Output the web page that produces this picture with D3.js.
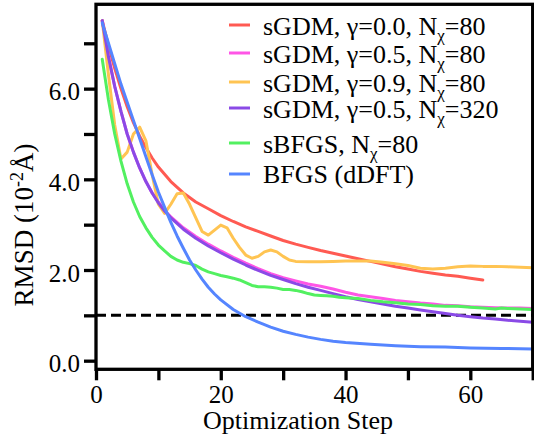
<!DOCTYPE html>
<html>
<head>
<meta charset="utf-8">
<script src="https://cdn.jsdelivr.net/npm/d3@7"></script>
<style>
    body { margin: 0; background: #fff; }
    svg text { font-family: "Liberation Serif", "Times New Roman", "DejaVu Serif", serif; }
</style>
</head>
<body>
<div id="chart"></div>
<script>
// Values
const stepsRed = [1, 2, 3, 4, 5, 6, 7, 8, 9, 10, 12, 14, 16, 18, 20, 22, 24, 26, 28, 30, 32, 34, 36, 38, 40, 42, 44, 46, 48, 50, 52, 54, 56, 58, 60, 62];
const rmsdRed = [7.5, 6.95, 6.45, 6.0, 5.6, 5.25, 4.95, 4.7, 4.47, 4.27, 3.95, 3.7, 3.5, 3.35, 3.2, 3.07, 2.95, 2.85, 2.75, 2.65, 2.57, 2.5, 2.43, 2.37, 2.31, 2.25, 2.19, 2.13, 2.07, 2.02, 1.97, 1.93, 1.89, 1.86, 1.82, 1.78];

const stepsMagenta = [1, 2, 3, 4, 5, 6, 7, 8, 9, 10, 11, 12, 14, 16, 18, 20, 22, 24, 26, 28, 30, 32, 34, 36, 38, 40, 42, 44, 46, 48, 50, 52, 54, 56, 58, 60, 62, 64, 66, 68, 70];
const rmsdMagenta = [7.5, 6.7, 6.05, 5.5, 5.0, 4.6, 4.25, 3.95, 3.7, 3.5, 3.32, 3.17, 2.93, 2.74, 2.57, 2.42, 2.28, 2.15, 2.03, 1.92, 1.83, 1.76, 1.69, 1.64, 1.58, 1.51, 1.45, 1.41, 1.37, 1.33, 1.3, 1.27, 1.25, 1.22, 1.21, 1.19, 1.18, 1.17, 1.16, 1.16, 1.15];

const stepsYellow = [1, 2, 3, 4, 5, 6, 7, 8, 9, 10, 11, 12, 13, 14, 15, 16, 17, 18, 19, 20, 21, 22, 23, 24, 25, 26, 27, 28, 29, 30, 31, 32, 34, 36, 38, 40, 42, 44, 46, 48, 50, 52, 54, 56, 58, 60, 62, 64, 66, 68, 70];
const rmsdYellow = [7.5, 6.3, 5.2, 4.45, 4.6, 5.0, 5.15, 4.85, 4.1, 3.45, 3.25, 3.45, 3.68, 3.7, 3.45, 3.15, 2.85, 2.77, 2.88, 2.99, 2.93, 2.7, 2.5, 2.33, 2.26, 2.3, 2.4, 2.44, 2.4, 2.3, 2.22, 2.19, 2.18, 2.18, 2.19, 2.2, 2.2, 2.2, 2.17, 2.14, 2.1, 2.04, 2.02, 2.04, 2.07, 2.09, 2.08, 2.08, 2.07, 2.06, 2.05];

const stepsPurple = [1, 2, 3, 4, 5, 6, 7, 8, 9, 10, 11, 12, 14, 16, 18, 20, 22, 24, 26, 28, 30, 32, 34, 36, 38, 40, 42, 44, 46, 48, 50, 52, 54, 56, 58, 60, 62, 64, 66, 68, 70];
const rmsdPurple = [7.5, 6.7, 6.05, 5.5, 5.0, 4.6, 4.25, 3.95, 3.7, 3.48, 3.3, 3.15, 2.9, 2.7, 2.53, 2.38, 2.24, 2.11, 1.99, 1.88, 1.79, 1.7, 1.62, 1.55, 1.48, 1.41, 1.35, 1.3, 1.25, 1.2, 1.16, 1.12, 1.08, 1.04, 1.0, 0.97, 0.94, 0.92, 0.89, 0.87, 0.85];

const stepsGreen = [1, 2, 3, 4, 5, 6, 7, 8, 9, 10, 11, 12, 13, 14, 15, 16, 17, 18, 19, 20, 21, 22, 23, 24, 25, 26, 27, 28, 29, 30, 31, 32, 33, 34, 35, 36, 37, 38, 39, 40, 42, 44, 46, 48, 50, 52, 54, 56, 58, 60, 62, 64, 65, 66, 68, 70];
const rmsdGreen = [6.65, 5.75, 5.0, 4.4, 3.9, 3.5, 3.18, 2.93, 2.72, 2.55, 2.42, 2.3, 2.22, 2.17, 2.14, 2.1, 2.02, 1.96, 1.92, 1.88, 1.85, 1.82, 1.78, 1.72, 1.66, 1.63, 1.63, 1.62, 1.6, 1.57, 1.57, 1.55, 1.52, 1.48, 1.45, 1.44, 1.43, 1.42, 1.4, 1.39, 1.37, 1.33, 1.3, 1.28, 1.25, 1.24, 1.21, 1.2, 1.2, 1.18, 1.16, 1.14, 1.16, 1.15, 1.14, 1.13];

const stepsBlue = [1, 2, 3, 4, 5, 6, 7, 8, 9, 10, 11, 12, 13, 14, 15, 16, 17, 18, 19, 20, 22, 24, 26, 28, 30, 32, 34, 36, 38, 40, 44, 48, 52, 56, 60, 65, 70];
const rmsdBlue = [7.45, 7.0, 6.55, 6.1, 5.7, 5.3, 4.9, 4.5, 4.1, 3.72, 3.38, 3.05, 2.75, 2.48, 2.22, 2.0, 1.8, 1.62, 1.47, 1.34, 1.13, 0.97, 0.85, 0.74, 0.65, 0.58, 0.52, 0.47, 0.43, 0.4, 0.36, 0.33, 0.31, 0.3, 0.28, 0.27, 0.26];

const seriesNames = [
    ["sGDM, γ=0.0, N", "χ", "=80"],
    ["sGDM, γ=0.5, N", "χ", "=80"],
    ["sGDM, γ=0.9, N", "χ", "=80"],
    ["sGDM, γ=0.5, N", "χ", "=320"],
    ["sBFGS, N", "χ", "=80"],
    ["BFGS (dDFT)", "", ""]
];
const seriesColors = ["#ff5a52", "#ff55e6", "#ffc452", "#8a4ae6", "#52f060", "#5585ff"];

const xTicks = [0, 10, 20, 30, 40, 50, 60, 70];
const xTickLabels = ["0", "", "20", "", "40", "", "60", ""];
const yTicks = [0, 1, 2, 3, 4, 5, 6, 7];
const yTickLabels = ["0.0", "", "2.0", "", "4.0", "", "6.0", ""];
const threshold = 1.0;

const series = [
    [stepsRed, rmsdRed],
    [stepsMagenta, rmsdMagenta],
    [stepsYellow, rmsdYellow],
    [stepsPurple, rmsdPurple],
    [stepsGreen, rmsdGreen],
    [stepsBlue, rmsdBlue]
].map(([s, v], i) => ({
    name: seriesNames[i],
    color: seriesColors[i],
    values: s.map((d, j) => ({ step: d, rmsd: v[j] }))
}));

const width = 534, height = 436;
const plot = { left: 96, right: 532.7, top: 4.3, bottom: 369.3 };
const serif = "'Liberation Serif', 'Times New Roman', 'DejaVu Serif', serif";

const x = d3.scaleLinear().domain([0, 70]).range([plot.left, plot.right]);
const y = d3.scaleLinear().domain([-0.19, 7.86]).range([plot.bottom, plot.top]);

const svg = d3.select("#chart").append("svg")
    .attr("width", width)
    .attr("height", height)
    .attr("viewBox", [0, 0, width, height])
    .attr("font-family", serif);

svg.append("clipPath").attr("id", "clip")
    .append("rect")
    .attr("x", plot.left).attr("y", plot.top)
    .attr("width", plot.right - plot.left).attr("height", plot.bottom - plot.top);

// dashed threshold line
svg.append("line")
    .attr("x1", plot.left).attr("x2", plot.right)
    .attr("y1", y(threshold)).attr("y2", y(threshold))
    .attr("stroke", "black")
    .attr("stroke-width", 3)
    .attr("stroke-dasharray", "10,5");

const line = d3.line()
    .x(d => x(d.step))
    .y(d => y(d.rmsd));

svg.append("g")
    .attr("clip-path", "url(#clip)")
    .selectAll("path")
    .data(series)
    .join("path")
    .attr("fill", "none")
    .attr("stroke", d => d.color)
    .attr("stroke-width", 3)
    .attr("stroke-linejoin", "round")
    .attr("stroke-linecap", "round")
    .attr("d", d => line(d.values));

// frame
svg.append("rect")
    .attr("x", plot.left).attr("y", plot.top)
    .attr("width", plot.right - plot.left).attr("height", plot.bottom - plot.top)
    .attr("fill", "none")
    .attr("stroke", "black")
    .attr("stroke-width", 3.3);

const xAxis = g => g
    .attr("transform", `translate(0,${plot.bottom})`)
    .call(d3.axisBottom(x).tickValues(xTicks).tickFormat((d, i) => xTickLabels[i])
        .tickSize(11).tickSizeOuter(0).tickPadding(5))
    .attr("font-family", serif)
    .attr("font-size", 25)
    .call(g => g.select(".domain").remove())
    .call(g => g.selectAll(".tick line").attr("stroke-width", 3.3))
    .call(g => g.selectAll(".tick text").attr("fill", "black"));

const yAxis = g => g
    .attr("transform", `translate(${plot.left},0)`)
    .call(d3.axisLeft(y).tickValues(yTicks).tickFormat((d, i) => yTickLabels[i])
        .tickSize(12).tickSizeOuter(0).tickPadding(4))
    .attr("font-family", serif)
    .attr("font-size", 25)
    .call(g => g.select(".domain").remove())
    .call(g => g.selectAll(".tick line").attr("stroke-width", 3.3))
    .call(g => g.selectAll(".tick text").attr("dy", "0.45em").attr("fill", "black"));

svg.append("g").call(xAxis);
svg.append("g").call(yAxis);

svg.append("text")
    .attr("x", 298)
    .attr("y", 429)
    .attr("text-anchor", "middle")
    .attr("font-size", 26)
    .text("Optimization Step");

const yLabel = svg.append("text")
    .attr("transform", "translate(33,225) rotate(-90)")
    .attr("text-anchor", "middle")
    .attr("font-size", 27);
yLabel.append("tspan").text("RMSD (10");
yLabel.append("tspan").attr("font-size", 18).attr("dy", -10).text("-2");
yLabel.append("tspan").attr("dy", 10).text("Å)");

// legend
const legendY = [25, 53, 82, 108, 143, 174];
const legend = svg.append("g")
    .selectAll("g")
    .data(series)
    .join("g")
    .attr("transform", (d, i) => `translate(229,${legendY[i]})`);

legend.append("line")
    .attr("x1", 0).attr("x2", 21)
    .attr("stroke", d => d.color)
    .attr("stroke-width", 3);

const legendText = legend.append("text")
    .attr("x", 34)
    .attr("y", (d, i) => i === 5 ? 9 : 10)
    .attr("font-size", 26);
legendText.append("tspan").text(d => d.name[0]);
legendText.append("tspan").attr("font-size", 17).attr("dy", 6).text(d => d.name[1]);
legendText.append("tspan").attr("dy", -6).text(d => d.name[2]);
</script>
</body>
</html>
